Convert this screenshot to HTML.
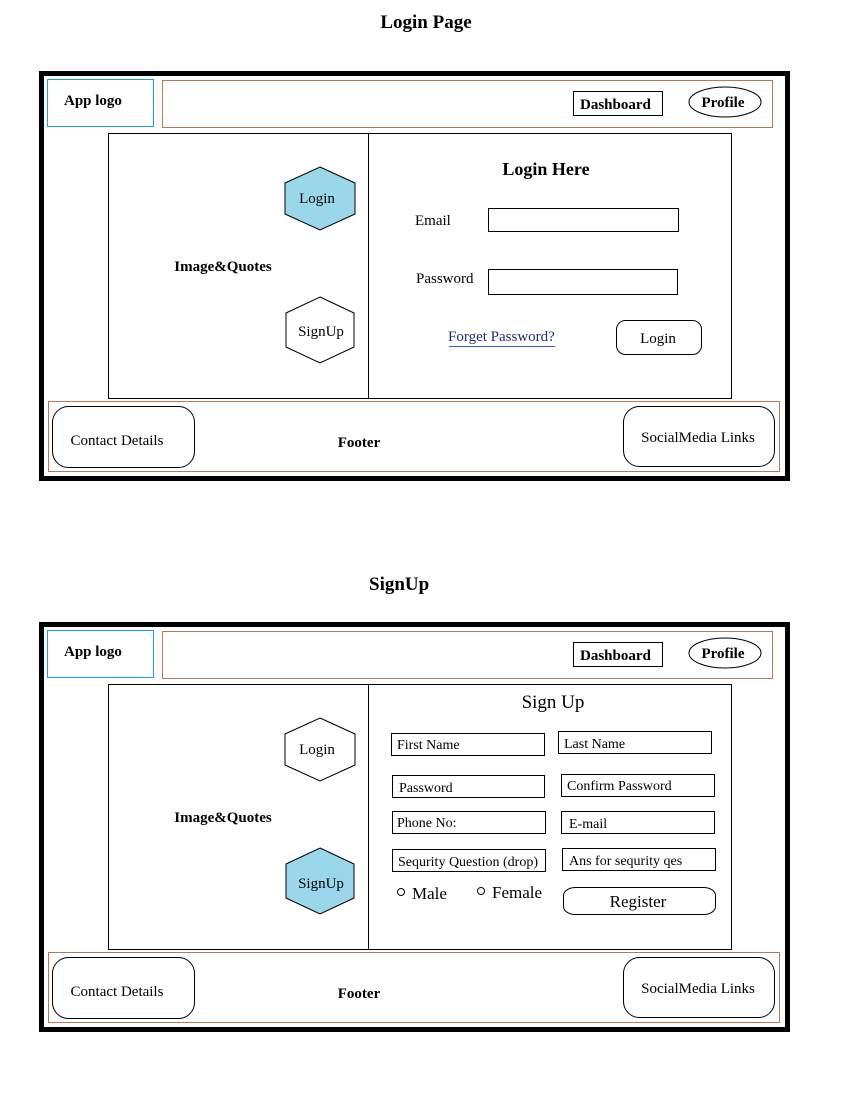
<!DOCTYPE html>
<html><head><style>
html,body{margin:0;padding:0;background:#fff;}
svg{display:block;}
text{font-family:"Liberation Serif",serif;fill:#000;}
.b{font-weight:bold;}
</style></head><body>
<svg width="868" height="1110" viewBox="0 0 868 1110" xmlns="http://www.w3.org/2000/svg">
<text x="426" y="28" font-size="19" class="b" text-anchor="middle">Login Page</text>
<text x="369" y="590" font-size="19" class="b">SignUp</text>

<!-- Page 1 -->
<g>
<rect x="41.5" y="73.5" width="746" height="405" fill="none" stroke="#000" stroke-width="5"/>
<rect x="47.5" y="79.5" width="106" height="47" fill="none" stroke="#1ba1e2" stroke-width="1"/>
<text x="64" y="105" font-size="15" class="b">App logo</text>
<rect x="162.5" y="80.5" width="610" height="47" fill="none" stroke="#b87a55" stroke-width="1"/>
<rect x="573.5" y="91.5" width="89" height="24" fill="none" stroke="#000"/>
<text x="580" y="109" font-size="15" class="b">Dashboard</text>
<ellipse cx="725" cy="102" rx="36" ry="15" fill="none" stroke="#000"/>
<text x="723" y="107" font-size="15" class="b" text-anchor="middle">Profile</text>
<rect x="108.5" y="133.5" width="623" height="265" fill="none" stroke="#000"/>
<line x1="368.5" y1="133" x2="368.5" y2="398" stroke="#000"/>
<polygon points="320,167 355,183 355,214 320,230 285,214 285,183" fill="#9ad7ea" stroke="#000"/>
<text x="317" y="203" font-size="15" text-anchor="middle">Login</text>
<polygon points="320,297 354,313 354,347 320,363 286,347 286,313" fill="#fff" stroke="#000"/>
<text x="321" y="336" font-size="15" text-anchor="middle">SignUp</text>
<text x="223" y="271" font-size="15" class="b" text-anchor="middle">Image&amp;Quotes</text>
<text x="546" y="175" font-size="18" class="b" text-anchor="middle">Login Here</text>
<text x="415" y="225" font-size="15">Email</text>
<rect x="488.5" y="208.5" width="190" height="23" fill="none" stroke="#000"/>
<text x="416" y="283" font-size="15">Password</text>
<rect x="488.5" y="269.5" width="189" height="25" fill="none" stroke="#000"/>
<text x="448" y="341" font-size="15" fill="#17375e" style="fill:#1f2f6e">Forget Password?</text>
<line x1="449" y1="346.5" x2="555" y2="346.5" stroke="#2e5cd6"/>
<rect x="616.5" y="320.5" width="85" height="34" rx="9" fill="none" stroke="#000"/>
<text x="658" y="343" font-size="15" text-anchor="middle">Login</text>
<rect x="48.5" y="401.5" width="731" height="70" fill="none" stroke="#b87a55"/>
<rect x="52.5" y="406.5" width="142" height="61" rx="16" fill="none" stroke="#000"/>
<text x="117" y="445" font-size="15" text-anchor="middle">Contact Details</text>
<text x="359" y="447" font-size="15" class="b" text-anchor="middle">Footer</text>
<rect x="623.5" y="406.5" width="151" height="60" rx="16" fill="none" stroke="#000"/>
<text x="698" y="442" font-size="15" text-anchor="middle">SocialMedia Links</text>
</g>

<!-- Page 2 -->
<g>
<rect x="41.5" y="624.5" width="746" height="405" fill="none" stroke="#000" stroke-width="5"/>
<rect x="47.5" y="630.5" width="106" height="47" fill="none" stroke="#1ba1e2"/>
<text x="64" y="656" font-size="15" class="b">App logo</text>
<rect x="162.5" y="631.5" width="610" height="47" fill="none" stroke="#b87a55"/>
<rect x="573.5" y="642.5" width="89" height="24" fill="none" stroke="#000"/>
<text x="580" y="660" font-size="15" class="b">Dashboard</text>
<ellipse cx="725" cy="653" rx="36" ry="15" fill="none" stroke="#000"/>
<text x="723" y="658" font-size="15" class="b" text-anchor="middle">Profile</text>
<rect x="108.5" y="684.5" width="623" height="265" fill="none" stroke="#000"/>
<line x1="368.5" y1="684" x2="368.5" y2="949" stroke="#000"/>
<polygon points="320,718 355,734 355,765 320,781 285,765 285,734" fill="#fff" stroke="#000"/>
<text x="317" y="754" font-size="15" text-anchor="middle">Login</text>
<polygon points="320,848 354,864 354,898 320,914 286,898 286,864" fill="#9ad7ea" stroke="#000"/>
<text x="321" y="888" font-size="15" text-anchor="middle">SignUp</text>
<text x="223" y="822" font-size="15" class="b" text-anchor="middle">Image&amp;Quotes</text>
<text x="553" y="708" font-size="19" text-anchor="middle">Sign Up</text>
<rect x="391.5" y="733.5" width="153" height="22" fill="none" stroke="#000"/>
<text x="397" y="749" font-size="14">First Name</text>
<rect x="558.5" y="731.5" width="153" height="22" fill="none" stroke="#000"/>
<text x="564" y="748" font-size="14">Last Name</text>
<rect x="392.5" y="775.5" width="152" height="22" fill="none" stroke="#000"/>
<text x="399" y="792" font-size="14">Password</text>
<rect x="561.5" y="774.5" width="153" height="22" fill="none" stroke="#000"/>
<text x="567" y="790" font-size="14">Confirm Password</text>
<rect x="392.5" y="811.5" width="153" height="22" fill="none" stroke="#000"/>
<text x="397" y="827" font-size="14">Phone No:</text>
<rect x="561.5" y="811.5" width="153" height="22" fill="none" stroke="#000"/>
<text x="569" y="828" font-size="14">E-mail</text>
<rect x="392.5" y="849.5" width="153" height="22" fill="none" stroke="#000"/>
<text x="398" y="866" font-size="14">Sequrity Question (drop)</text>
<rect x="562.5" y="848.5" width="153" height="22" fill="none" stroke="#000"/>
<text x="569" y="865" font-size="14">Ans for sequrity qes</text>
<circle cx="401" cy="892" r="3.5" fill="none" stroke="#000"/>
<text x="412" y="899" font-size="17">Male</text>
<circle cx="481" cy="891" r="3.5" fill="none" stroke="#000"/>
<text x="492" y="898" font-size="17">Female</text>
<rect x="563.5" y="887.5" width="152" height="27" rx="12" ry="8" fill="none" stroke="#000"/>
<text x="638" y="907" font-size="17" text-anchor="middle">Register</text>
<rect x="48.5" y="952.5" width="731" height="70" fill="none" stroke="#b87a55"/>
<rect x="52.5" y="957.5" width="142" height="61" rx="16" fill="none" stroke="#000"/>
<text x="117" y="996" font-size="15" text-anchor="middle">Contact Details</text>
<text x="359" y="998" font-size="15" class="b" text-anchor="middle">Footer</text>
<rect x="623.5" y="957.5" width="151" height="60" rx="16" fill="none" stroke="#000"/>
<text x="698" y="993" font-size="15" text-anchor="middle">SocialMedia Links</text>
</g>
</svg>
</body></html>
